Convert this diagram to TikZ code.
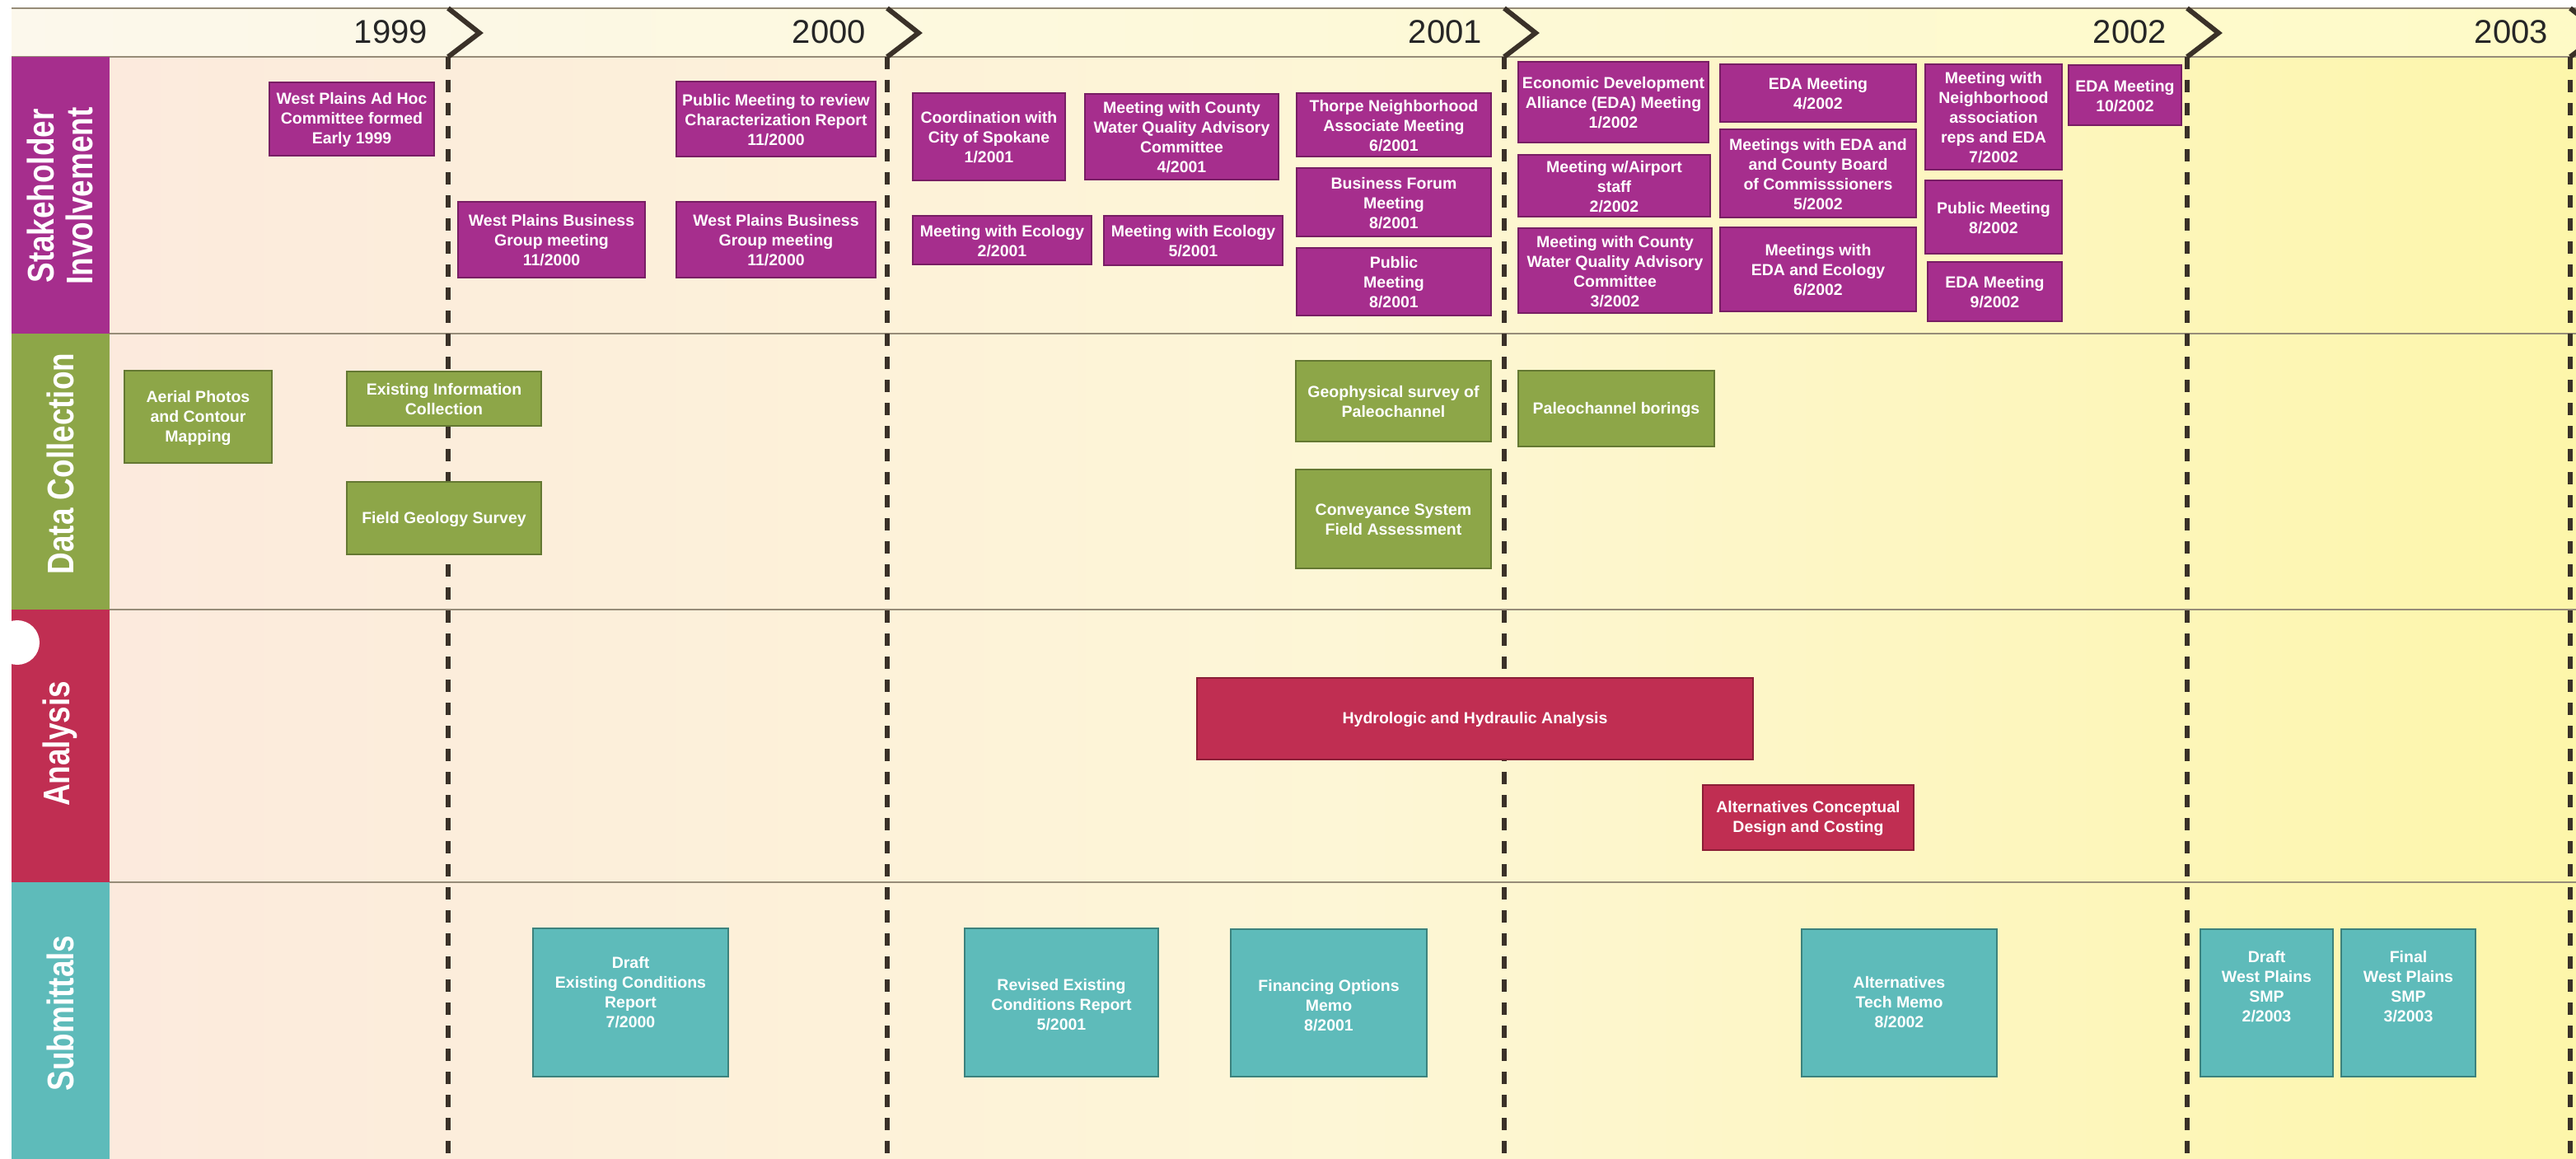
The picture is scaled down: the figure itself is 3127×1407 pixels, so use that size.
\documentclass[tikz,border=0pt]{standalone}
\usepackage{fontspec}
\setmainfont{Liberation Sans}
\newfontfamily\lanefont{Liberation Sans}[FakeStretch=0.82]
\usetikzlibrary{fit}

\definecolor{meetfill}{RGB}{166,46,141}
\definecolor{meetedge}{RGB}{120,30,100}
\definecolor{datafill}{RGB}{141,166,72}
\definecolor{dataedge}{RGB}{100,120,50}
\definecolor{anafill}{RGB}{192,46,82}
\definecolor{anaedge}{RGB}{140,30,55}
\definecolor{subfill}{RGB}{94,187,186}
\definecolor{subedge}{RGB}{60,130,125}
\definecolor{divcol}{RGB}{58,49,40}
\definecolor{bgl}{RGB}{252,234,221}
\definecolor{bgm}{RGB}{253,246,214}
\definecolor{bgr}{RGB}{253,246,170}
\definecolor{hdl}{RGB}{252,248,236}
\definecolor{hdr}{RGB}{254,250,198}
\definecolor{rulecol}{RGB}{150,140,120}

\tikzset{
  evbox/.style={inner sep=0pt, line width=0.6pt},
  evtext/.style={inner sep=0pt, text=white, align=center,
    font=\bfseries\fontsize{9.75}{12}\selectfont},
  meet/.style={evbox, fill=meetfill, draw=meetedge},
  datab/.style={evbox, fill=datafill, draw=dataedge},
  anab/.style={evbox, fill=anafill, draw=anaedge},
  subb/.style={evbox, fill=subfill, draw=subedge},
  lanelbl/.style={rotate=90, text=white, align=center,
    font=\lanefont\bfseries\fontsize{22.5}{23.5}\selectfont},
  yearlbl/.style={anchor=east, text=black!85, font=\fontsize{20}{24}\selectfont},
  yeardiv/.style={line width=3pt, draw=divcol, dash pattern=on 7.5pt off 6.5pt},
  chev/.style={line width=3pt, draw=divcol, line join=miter},
}

\begin{document}
\begin{tikzpicture}[x=0.5pt, y=-0.5pt]
  \useasboundingbox (0,0) rectangle (3127,1407);

  \newcommand\Top{10}
  \newcommand\Hd{69}
  \newcommand\Bot{1407}
  % [text shift]{style}{name}{corners}{text}
  \newcommand\evt[5][-0.5pt]{%
    \node[#2, fit={#4}] (#3) {};
    \node[evtext, yshift=#1] (#3-t) at (#3.center) {#5};}

  %% backgrounds
  \fill[white] (0,0) rectangle (3127,1407);
  \shade[left color=hdl, right color=hdr] (14,\Top) rectangle (3127,\Hd);
  \shade[left color=bgl, right color=bgr, middle color=bgm] (133,\Hd) rectangle (3127,\Bot);
  \draw[rulecol, line width=0.6pt] (14,\Top) -- (3127,\Top);
  \draw[rulecol, line width=0.6pt] (14,\Hd) -- (3127,\Hd);
  \draw[rulecol, line width=0.6pt] (133,405) -- (3127,405);
  \draw[rulecol, line width=0.6pt] (133,740) -- (3127,740);
  \draw[rulecol, line width=0.6pt] (133,1071) -- (3127,1071);

  %% lanes
  \fill[meetfill] (14,\Hd) rectangle (133,405);
  \fill[datafill] (14,405) rectangle (133,740);
  \fill[anafill] (14,740) rectangle (133,1071);
  \fill[subfill] (14,1071) rectangle (133,\Bot);
  \fill[white] (21,780) circle (13.5pt);

  \node[lanelbl] (lstake) at (73,238) {Stakeholder\\Involvement};
  \node[lanelbl] (ldata) at (73,563) {Data Collection};
  \node[lanelbl] (lana) at (73,903) {Analysis};
  \node[lanelbl] (lsub) at (73,1230) {Submittals};

  %% year dividers
  \draw[yeardiv] (544,\Hd) -- (544,\Bot);
  \draw[yeardiv] (1077,\Hd) -- (1077,\Bot);
  \draw[yeardiv] (1826,\Hd) -- (1826,\Bot);
  \draw[yeardiv] (2655,\Hd) -- (2655,\Bot);
  \draw[yeardiv] (3120,\Hd) -- (3120,\Bot);
  \draw[chev] (544,\Top) -- (582,40) -- (544,\Hd);
  \draw[chev] (1077,\Top) -- (1115,40) -- (1077,\Hd);
  \draw[chev] (1826,\Top) -- (1864,40) -- (1826,\Hd);
  \draw[chev] (2655,\Top) -- (2693,40) -- (2655,\Hd);
  \draw[chev] (3120,\Top) -- (3158,40) -- (3120,\Hd);

  \node[yearlbl] (y1999) at (526,39) {1999};
  \node[yearlbl] (y2000) at (1058,39) {2000};
  \node[yearlbl] (y2001) at (1806,39) {2001};
  \node[yearlbl] (y2002) at (2637,39) {2002};
  \node[yearlbl] (y2003) at (3100,39) {2003};

  %% stakeholder involvement
  \evt{meet}{adhoc}{(327,100) (527,189)}{West Plains Ad Hoc\\Committee formed\\Early 1999}
  \evt{meet}{pubchar}{(821,99) (1063,190)}{Public Meeting to review\\Characterization Report\\11/2000}
  \evt{meet}{wpbiz1}{(556,245) (783,337)}{West Plains Business\\Group meeting\\11/2000}
  \evt{meet}{wpbiz2}{(821,245) (1063,337)}{West Plains Business\\Group meeting\\11/2000}
  \evt{meet}{spokane}{(1108,113) (1293,219)}{Coordination with\\City of Spokane\\1/2001}
  \evt{meet}{wqac1}{(1317,114) (1552,218)}{Meeting with County\\Water Quality Advisory\\Committee\\4/2001}
  \evt{meet}{thorpe}{(1574,113) (1810,190)}{Thorpe Neighborhood\\Associate Meeting\\6/2001}
  \evt{meet}{bizforum}{(1574,204) (1810,287)}{Business Forum\\Meeting\\8/2001}
  \evt{meet}{pub2001}{(1574,301) (1810,383)}{Public\\Meeting\\8/2001}
  \evt{meet}{eco1}{(1108,262) (1325,321)}{Meeting with Ecology\\2/2001}
  \evt{meet}{eco2}{(1340,262) (1557,322)}{Meeting with Ecology\\5/2001}
  \evt{meet}{eda1}{(1843,75) (2074,173)}{Economic Development\\Alliance (EDA) Meeting\\1/2002}
  \evt{meet}{airport}{(1843,188) (2076,263)}{Meeting w/Airport\\staff\\2/2002}
  \evt{meet}{wqac2}{(1843,277) (2078,380)}{Meeting with County\\Water Quality Advisory\\Committee\\3/2002}
  \evt{meet}{eda4}{(2088,78) (2326,148)}{EDA Meeting\\4/2002}
  \evt{meet}{edaboard}{(2088,157) (2326,264)}{Meetings with EDA and\\and County Board\\of Commisssioners\\5/2002}
  \evt{meet}{edaeco}{(2088,276) (2326,378)}{Meetings with\\EDA and Ecology\\6/2002}
  \evt{meet}{neigh}{(2337,78) (2503,206)}{Meeting with\\Neighborhood\\association\\reps and EDA\\7/2002}
  \evt{meet}{pub2002}{(2337,219) (2503,308)}{Public Meeting\\8/2002}
  \evt{meet}{eda9}{(2340,318) (2503,390)}{EDA Meeting\\9/2002}
  \evt{meet}{eda10}{(2511,79) (2648,152)}{EDA Meeting\\10/2002}

  %% data collection
  \evt{datab}{aerial}{(151,450) (330,562)}{Aerial Photos\\and Contour\\Mapping}
  \evt{datab}{existinfo}{(421,451) (657,517)}{Existing Information\\Collection}
  \evt{datab}{fieldgeo}{(421,585) (657,673)}{Field Geology Survey}
  \evt{datab}{geophys}{(1573,438) (1810,536)}{Geophysical survey of\\Paleochannel}
  \evt{datab}{borings}{(1843,450) (2081,542)}{Paleochannel borings}
  \evt{datab}{convey}{(1573,570) (1810,690)}{Conveyance System\\Field Assessment}

  %% analysis
  \evt{anab}{hydro}{(1453,823) (2128,922)}{Hydrologic and Hydraulic Analysis}
  \evt{anab}{altdesign}{(2067,953) (2323,1032)}{Alternatives Conceptual\\Design and Costing}

  %% submittals
  \evt[6pt]{subb}{draftecr}{(647,1127) (884,1307)}{Draft\\Existing Conditions\\Report\\7/2000}
  \evt[-1.5pt]{subb}{revecr}{(1171,1127) (1406,1307)}{Revised Existing\\Conditions Report\\5/2001}
  \evt[-1.5pt]{subb}{finmemo}{(1494,1128) (1732,1307)}{Financing Options\\Memo\\8/2001}
  \evt[0.5pt]{subb}{alttm}{(2187,1128) (2424,1307)}{Alternatives\\Tech Memo\\8/2002}
  \evt[10pt]{subb}{draftsmp}{(2671,1128) (2832,1307)}{Draft\\West Plains\\SMP\\2/2003}
  \evt[10pt]{subb}{finalsmp}{(2842,1128) (3005,1307)}{Final\\West Plains\\SMP\\3/2003}
\end{tikzpicture}
\end{document}
